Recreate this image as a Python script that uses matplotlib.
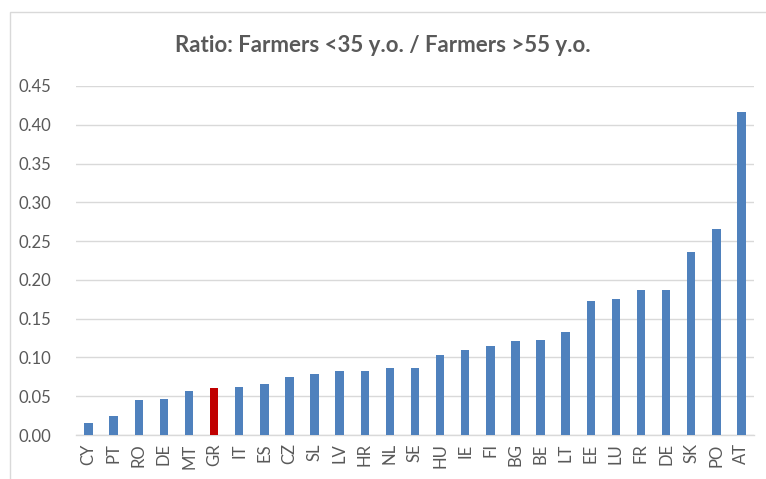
import matplotlib.pyplot as plt
from matplotlib.patches import Rectangle

# ratio of young (<35) to old (>55) farmers, sorted ascending
countries = ['CY', 'PT', 'RO', 'DE', 'MT', 'GR', 'IT', 'ES', 'CZ', 'SL',
             'LV', 'HR', 'NL', 'SE', 'HU', 'IE', 'FI', 'BG', 'BE', 'LT',
             'EE', 'LU', 'FR', 'DE', 'SK', 'PO', 'AT']
ratios = [0.016, 0.024, 0.045, 0.046, 0.057, 0.060, 0.062, 0.066, 0.075, 0.079,
          0.083, 0.083, 0.086, 0.087, 0.103, 0.109, 0.115, 0.121, 0.123, 0.133,
          0.173, 0.175, 0.187, 0.187, 0.236, 0.266, 0.417]
highlight = 'GR'
yticks = [0.00, 0.05, 0.10, 0.15, 0.20, 0.25, 0.30, 0.35, 0.40, 0.45]

blue = '#4F81BD'
red = '#C00000'
grey_text = '#595959'

plt.rcParams['font.family'] = ['Lato', 'DejaVu Sans']

fig = plt.figure(figsize=(7.66, 4.79), dpi=100)
ax = fig.add_axes([76 / 766, 1 - 435 / 479, 678 / 766, (435 - 86) / 479])

colors = [red if c == highlight else blue for c in countries]
x = list(range(len(countries)))
ax.bar(x, ratios, width=0.34, color=colors, zorder=3)

ax.set_xlim(-0.5, len(countries) - 0.5)
ax.set_ylim(0, 0.45)
ax.set_yticks(yticks)
ax.set_yticklabels(['{:.2f}'.format(v) for v in yticks])
ax.set_xticks(x)
ax.set_xticklabels(countries, rotation=90)
ax.tick_params(axis='both', length=0, colors=grey_text, labelsize=12)
ax.tick_params(axis='y', pad=18)
ax.tick_params(axis='x', pad=6)

ax.grid(axis='y', color='#D9D9D9', linewidth=1, zorder=0)
for side in ['top', 'right', 'left']:
    ax.spines[side].set_visible(False)
ax.spines['bottom'].set_color('#D9D9D9')
ax.spines['bottom'].set_linewidth(1)

fig.text(0.5, 1 - 45 / 479, 'Ratio: Farmers <35 y.o. / Farmers >55 y.o.',
         ha='center', va='center', fontsize=16, fontweight='bold',
         color=grey_text)

# chart border
fig.patches.append(Rectangle((10 / 766, -0.01), 1.0, 1 - 12 / 479 + 0.01,
                             transform=fig.transFigure, fill=False,
                             edgecolor='#D9D9D9', linewidth=1))

fig.savefig('out.png', dpi=100)
plt.close(fig)
